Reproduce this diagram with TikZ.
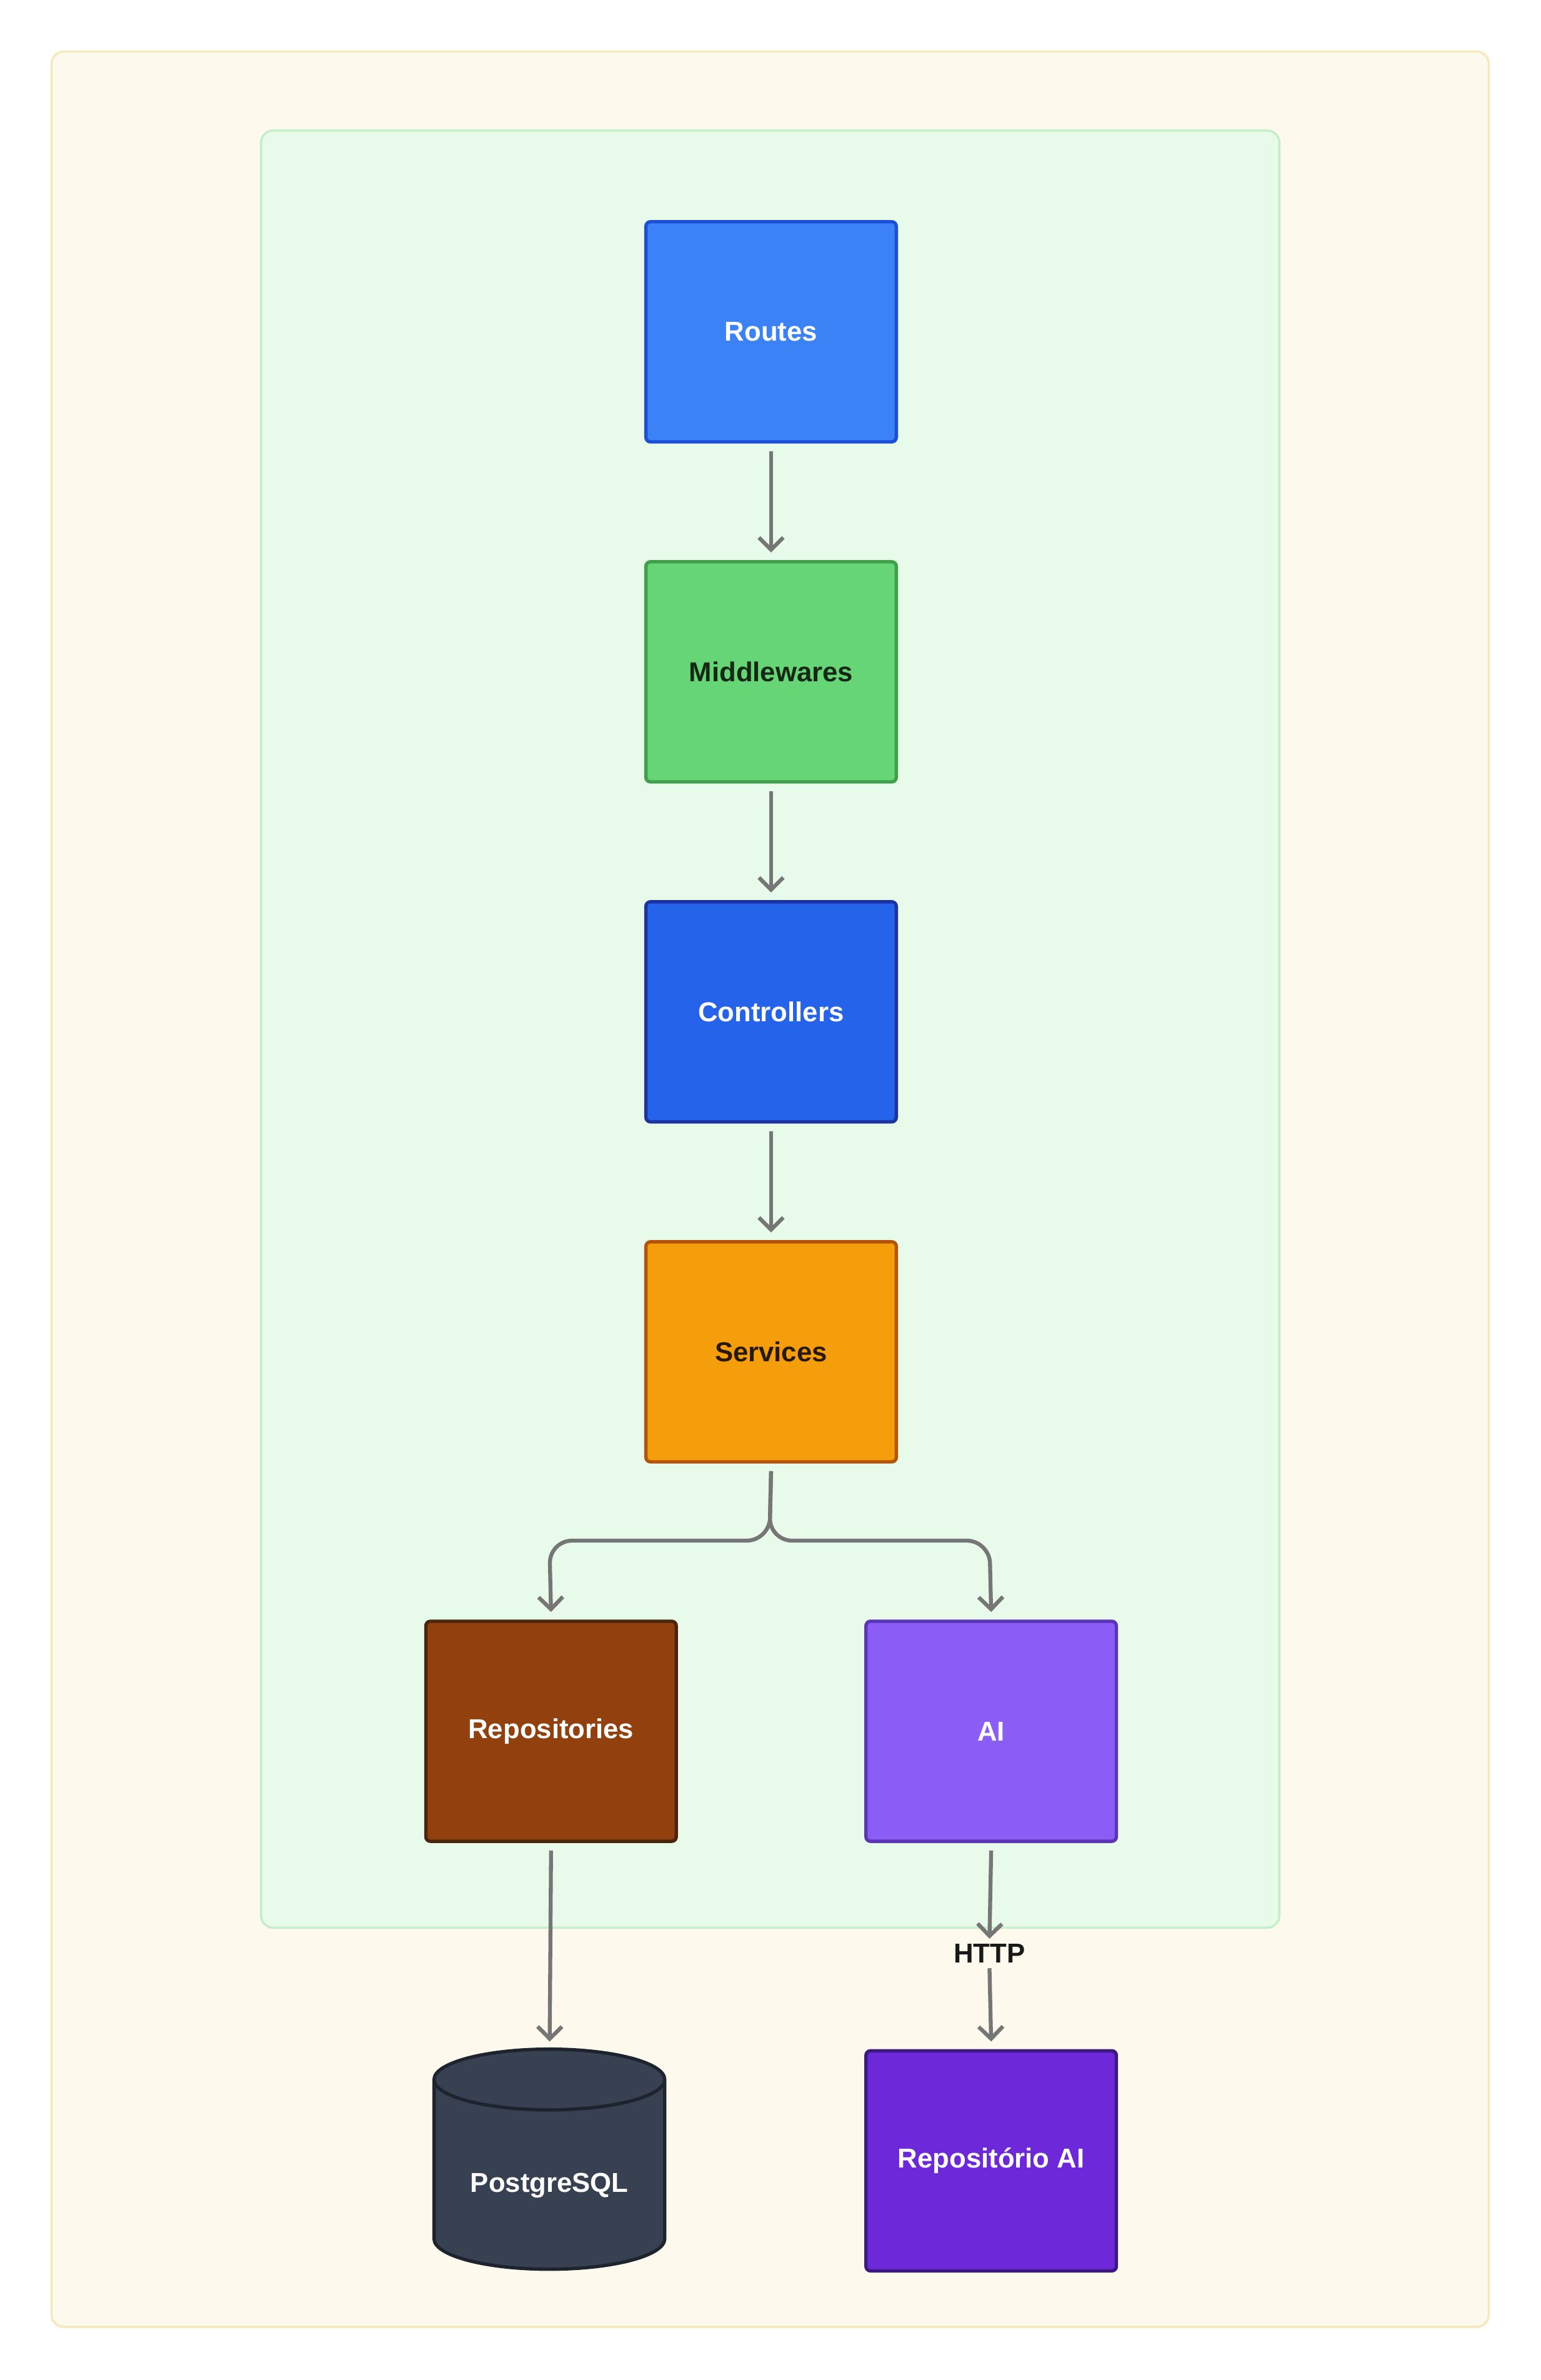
\documentclass[tikz,border=0pt]{standalone}
\usepackage{fontspec}
\setmainfont{Liberation Sans}
\usetikzlibrary{arrows.meta}
\definecolor{outerf}{HTML}{FDF9EC}\definecolor{outerd}{HTML}{F8E8BE}
\definecolor{innerf}{HTML}{E8FBEA}\definecolor{innerd}{HTML}{C6EECB}
\definecolor{arr}{HTML}{767676}
\definecolor{rF}{HTML}{3B82F6}\definecolor{rD}{HTML}{1D4ED8}
\definecolor{mF}{HTML}{66D575}\definecolor{mD}{HTML}{3F9F4A}\definecolor{mT}{HTML}{142814}
\definecolor{cF}{HTML}{2563EB}\definecolor{cD}{HTML}{1E32A0}
\definecolor{sF}{HTML}{F59E0B}\definecolor{sD}{HTML}{B45309}\definecolor{sT}{HTML}{281905}
\definecolor{repF}{HTML}{92400E}\definecolor{repD}{HTML}{4A2510}
\definecolor{aiF}{HTML}{8B5CF6}\definecolor{aiD}{HTML}{5B35B5}
\definecolor{raiF}{HTML}{6D28D9}\definecolor{raiD}{HTML}{3B1A80}
\definecolor{pgF}{HTML}{374151}\definecolor{pgD}{HTML}{1E242E}
\definecolor{txt}{HTML}{191919}
\begin{document}
\begin{tikzpicture}[x=1pt,y=-1pt,
 box/.style={draw=#1,line width=2.2pt,rounded corners=3pt,minimum width=165pt,minimum height=145pt,font=\fontsize{18}{21}\selectfont\bfseries,anchor=north west},
 lbl/.style={font=\fontsize{18}{21}\selectfont\bfseries},
 con/.style={draw=arr,line width=2.6pt,-{Straight Barb[length=8pt,width=16pt,line width=2.6pt]}}]
\useasboundingbox (0,0) rectangle (1015,1568);
\draw[fill=outerf,draw=outerd,line width=1.5pt,rounded corners=8pt] (34,34) rectangle (981,1533);
\draw[fill=innerf,draw=innerd,line width=1.5pt,rounded corners=8pt] (172,86) rectangle (843,1270);
\node[box=rD,fill=rF,text=white] (r) at (424.5,145) {Routes};
\node[box=mD,fill=mF,text=mT] (m) at (424.5,369) {Middlewares};
\node[box=cD,fill=cF,text=white] (c) at (424.5,593) {Controllers};
\node[box=sD,fill=sF,text=sT] (s) at (424.5,817) {Services};
\node[box=repD,fill=repF,text=white] (rep) at (279.5,1067) {Repositories};
\node[box=aiD,fill=aiF,text=white] (ai) at (569.5,1067) {AI};
\node[box=raiD,fill=raiF,text=white] (rai) at (569.5,1350) {Repositório AI};
% cylinder
\draw[fill=pgF,draw=pgD,line width=2.2pt]
 (286,1370) -- (286,1475) arc[start angle=180,end angle=0,x radius=76,y radius=20] -- (438,1370) arc[start angle=0,end angle=-180,x radius=76,y radius=20] -- cycle;
\draw[draw=pgD,line width=2.2pt] (286,1370) arc[start angle=180,end angle=0,x radius=76,y radius=20];
\node[minimum width=152pt,minimum height=145pt,anchor=north west] (pg) at (286,1350) {};
\node[lbl,text=white] at (362,1440) {PostgreSQL};
\node[lbl,text=txt] (http) at (652,1287) {HTTP};
\draw[con] ([yshift=-5pt]r.south) -- ([yshift=5pt]m.north);
\draw[con] ([yshift=-5pt]m.south) -- ([yshift=5pt]c.north);
\draw[con] ([yshift=-5pt]c.south) -- ([yshift=5pt]s.north);
\draw[con,rounded corners=15pt] ([yshift=-5pt]s.south) -- (507,1015) -- (362,1015) -- ([yshift=5pt]rep.north);
\draw[con,rounded corners=15pt] ([yshift=-5pt]s.south) -- (507,1015) -- (652,1015) -- ([yshift=5pt]ai.north);
\draw[con] ([yshift=-5pt]rep.south) -- ([yshift=5pt]pg.north);
\draw[con] ([yshift=-5pt]ai.south) -- (http.north);
\draw[con] (http.south) -- ([yshift=5pt]rai.north);
\end{tikzpicture}
\end{document}
